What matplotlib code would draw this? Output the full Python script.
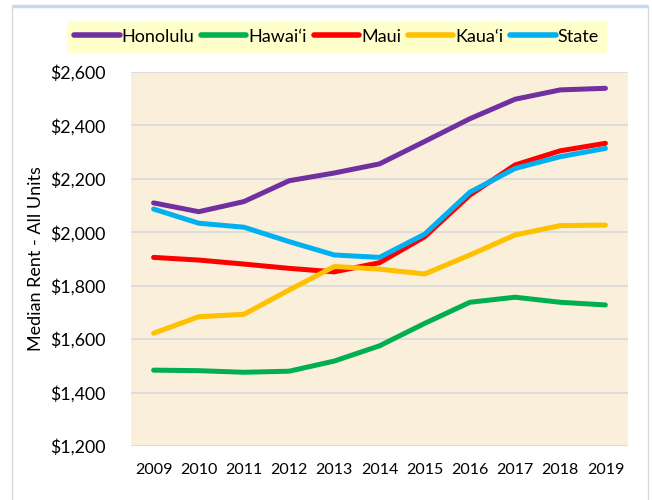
import matplotlib
matplotlib.use("Agg")
import matplotlib.pyplot as plt
from matplotlib.patches import Rectangle
from matplotlib.ticker import FuncFormatter

years = [2009, 2010, 2011, 2012, 2013, 2014, 2015, 2016, 2017, 2018, 2019]
honolulu = [2110, 2077, 2115, 2193, 2222, 2256, 2340, 2425, 2498, 2533, 2539]
hawaii = [1484, 1482, 1476, 1480, 1518, 1575, 1659, 1738, 1757, 1738, 1728]
maui = [1906, 1896, 1881, 1865, 1852, 1886, 1983, 2139, 2252, 2305, 2333]
kauai = [1622, 1684, 1693, 1784, 1872, 1862, 1844, 1915, 1990, 2025, 2027]
state = [2087, 2034, 2019, 1965, 1915, 1906, 1993, 2150, 2239, 2283, 2314]

series = [
    ("Honolulu", honolulu, "#7030A0"),
    ("Hawai\u2018i", hawaii, "#00B050"),
    ("Maui", maui, "#FF0000"),
    ("Kaua\u2018i", kauai, "#FFC000"),
    ("State", state, "#00B0F0"),
]

plt.rcParams['font.family'] = ['Lato', 'DejaVu Sans']

fig = plt.figure(figsize=(6.52, 5.0), dpi=100)
W, H = 652, 500

# outer frame
fig.patches.append(Rectangle((12 / W, -0.01), (648 - 12) / W, (494 + 0.01 * H) / H,
                             transform=fig.transFigure, fill=False,
                             edgecolor="#D9D9D9", lw=1.0))
fig.patches.append(Rectangle((12 / W, 494 / H), (648 - 12) / W, 0,
                             transform=fig.transFigure, fill=False,
                             edgecolor="#C5D9F1", lw=2.5))

ax = fig.add_axes([131 / W, 1 - 446 / H, (628 - 131) / W, (446 - 72) / H])
ax.set_facecolor("#F9EFDA")

for name, vals, col in series:
    ax.plot(years, vals, color=col, lw=3.6, label=name, solid_capstyle="round")

ax.set_ylim(1200, 2600)
ax.set_xlim(2008.5, 2019.5)
ax.set_yticks(range(1200, 2601, 200))
ax.set_xticks(years)
ax.yaxis.set_major_formatter(FuncFormatter(lambda v, p: "${:,.0f}".format(v)))
ax.grid(axis="y", color="#D9D9D9", lw=1.2)
ax.set_axisbelow(True)
for s in ax.spines.values():
    s.set_visible(False)
ax.tick_params(axis="x", length=0, labelsize=11.5, colors="#000000", pad=12)
ax.tick_params(axis="y", length=0, labelsize=12.8, colors="#000000", pad=18)
ax.set_ylabel("Median Rent - All Units", fontsize=13, labelpad=5)

leg = fig.legend(loc="center", bbox_to_anchor=((50 + 623) / 2 / W, 1 - 36.5 / H),
                 ncol=5, frameon=True, fontsize=13, handlelength=2.5,
                 handletextpad=0.1, columnspacing=0.4, borderpad=0.4,
                 borderaxespad=0)
leg.get_frame().set_facecolor("#FFFFCC")
leg.get_frame().set_edgecolor("#FFFFCC")
leg.get_frame().set_alpha(1)
leg.get_frame().set_boxstyle("square", pad=0)
for h in leg.get_lines():
    h.set_linewidth(4)

fig.savefig("out.png", dpi=100, facecolor="white")
